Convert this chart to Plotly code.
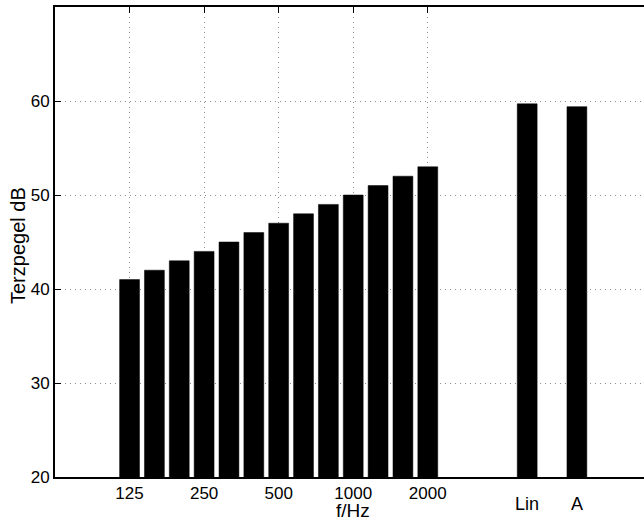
import plotly.graph_objects as go

# Third-octave band centre frequencies (Hz) and their levels (dB)
bands = ["125", "160", "200", "250", "315", "400", "500", "630", "800",
         "1000", "1250", "1600", "2000"]
levels = [41, 42, 43, 44, 45, 46, 47, 48, 49, 50, 51, 52, 53]
tick_labels = ["125", "250", "500", "1000", "2000"]

# Overall levels
sum_labels = ["Lin", "A"]
sum_values = [59.7, 59.4]

FONT = "Liberation Sans, Arial, Helvetica, sans-serif"

band_x = list(range(len(bands)))
sum_x = [len(bands) + 3 + 2 * i for i in range(len(sum_labels))]
tick_x = [bands.index(t) for t in tick_labels]

fig = go.Figure()
fig.add_trace(go.Bar(
    x=band_x + sum_x,
    y=levels + sum_values,
    width=0.8,
    marker=dict(color="black", line=dict(color="black", width=0.5)),
    base=0,
    hoverinfo="skip",
))

fig.update_layout(
    width=644, height=522,
    margin=dict(l=55, r=0, t=7, b=45),
    paper_bgcolor="white", plot_bgcolor="white",
    showlegend=False,
    font=dict(family=FONT, size=17, color="black"),
    bargap=0,
)
fig.update_xaxes(
    range=[-3, 20.7],
    tickmode="array", tickvals=tick_x, ticktext=tick_labels,
    ticks="inside", ticklen=6, tickwidth=1, tickcolor="black",
    showline=True, linecolor="black", linewidth=2, mirror="ticks",
    showgrid=True, gridcolor="#8c8c8c", gridwidth=1, griddash="1px,4px",
    zeroline=False,
    tickfont=dict(size=17),
)
fig.update_yaxes(
    range=[20, 70],
    tickmode="array", tickvals=[20, 30, 40, 50, 60],
    ticks="inside", ticklen=6, tickwidth=1, tickcolor="black",
    showline=True, linecolor="black", linewidth=2, mirror=False,
    showgrid=True, gridcolor="#8c8c8c", gridwidth=1, griddash="1px,4px",
    zeroline=False,
    tickfont=dict(size=17),
)

annotations = [
    dict(text="f/Hz", x=9, xref="x", y=0, yref="paper", yanchor="bottom",
         yshift=-45, showarrow=False, font=dict(size=19), borderpad=0),
    dict(text="Terzpegel dB", x=0, xref="paper", xanchor="center",
         xshift=-37, y=0.5, yref="paper", yanchor="middle", yshift=-4,
         textangle=-90, showarrow=False, font=dict(size=20)),
]
for lab, xv in zip(sum_labels, sum_x):
    annotations.append(dict(text=lab, x=xv, xref="x", y=0, yref="paper",
                            yanchor="middle", yshift=-27, showarrow=False,
                            font=dict(size=18)))
fig.update_layout(annotations=annotations)

fig.write_html("out.html", config={"displayModeBar": False, "staticPlot": True})

# remove the default page margin so the figure fills the window exactly
with open("out.html", "r", encoding="utf-8") as f:
    html = f.read()
html = html.replace("<head>", "<head><style>html,body{margin:0;padding:0;overflow:hidden;}</style>", 1)
with open("out.html", "w", encoding="utf-8") as f:
    f.write(html)
